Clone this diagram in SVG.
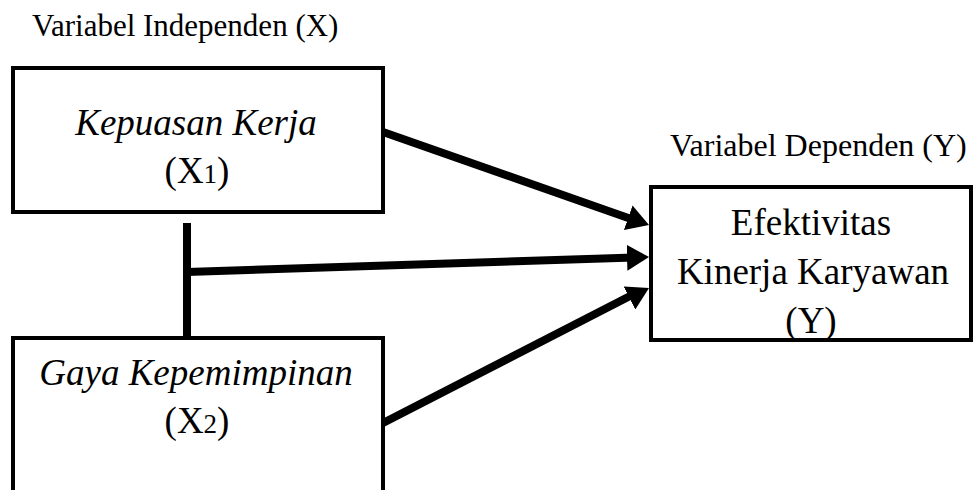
<svg xmlns="http://www.w3.org/2000/svg" width="978" height="490" viewBox="0 0 978 490">
<defs>
<marker id="ah" markerUnits="userSpaceOnUse" viewBox="0 0 22 26" markerWidth="22" markerHeight="26" refX="22" refY="13" orient="auto">
<path d="M0,0 L22,13 L0,26 Z" fill="#000"/>
</marker>
</defs>
<text x="32" y="36" font-family="Liberation Serif" font-size="31" fill="#000">Variabel Independen (X)</text>
<text x="670" y="156" font-family="Liberation Serif" font-size="32" fill="#000">Variabel Dependen (Y)</text>
<g id="connectors" stroke="#000" stroke-width="8" fill="none">
<line x1="187" y1="223" x2="187" y2="337"/>
<line x1="187" y1="272" x2="634" y2="257.5"/>
<line x1="383" y1="132" x2="634" y2="220"/>
<line x1="383" y1="423" x2="634" y2="294"/>
<path d="M187,272 L649,257" stroke="none" marker-end="url(#ah)"/>
<path d="M383,132 L649,225" stroke="none" marker-end="url(#ah)"/>
<path d="M383,423 L649,288" stroke="none" marker-end="url(#ah)"/>
</g>
<g id="x1">
<rect x="13" y="68" width="370" height="144" fill="#fff" stroke="#000" stroke-width="4"/>
<text x="196" y="135" font-family="Liberation Serif" font-style="italic" font-size="37" text-anchor="middle">Kepuasan Kerja</text>
<text x="197" y="183" font-family="Liberation Serif" font-size="37" text-anchor="middle">(X<tspan font-size="27">1</tspan>)</text>
</g>
<g id="x2">
<rect x="13" y="338" width="370" height="170" fill="#fff" stroke="#000" stroke-width="4"/>
<text x="196" y="385" font-family="Liberation Serif" font-style="italic" font-size="37" text-anchor="middle">Gaya Kepemimpinan</text>
<text x="197" y="433" font-family="Liberation Serif" font-size="37" text-anchor="middle">(X<tspan font-size="27">2</tspan>)</text>
</g>
<g id="y">
<rect x="651" y="187" width="320" height="153" fill="#fff" stroke="#000" stroke-width="4"/>
<text x="811" y="235" font-family="Liberation Serif" font-size="37" text-anchor="middle">Efektivitas</text>
<text x="813" y="284" font-family="Liberation Serif" font-size="37" text-anchor="middle">Kinerja Karyawan</text>
<text x="811" y="333" font-family="Liberation Serif" font-size="37" text-anchor="middle">(Y)</text>
</g>
</svg>
